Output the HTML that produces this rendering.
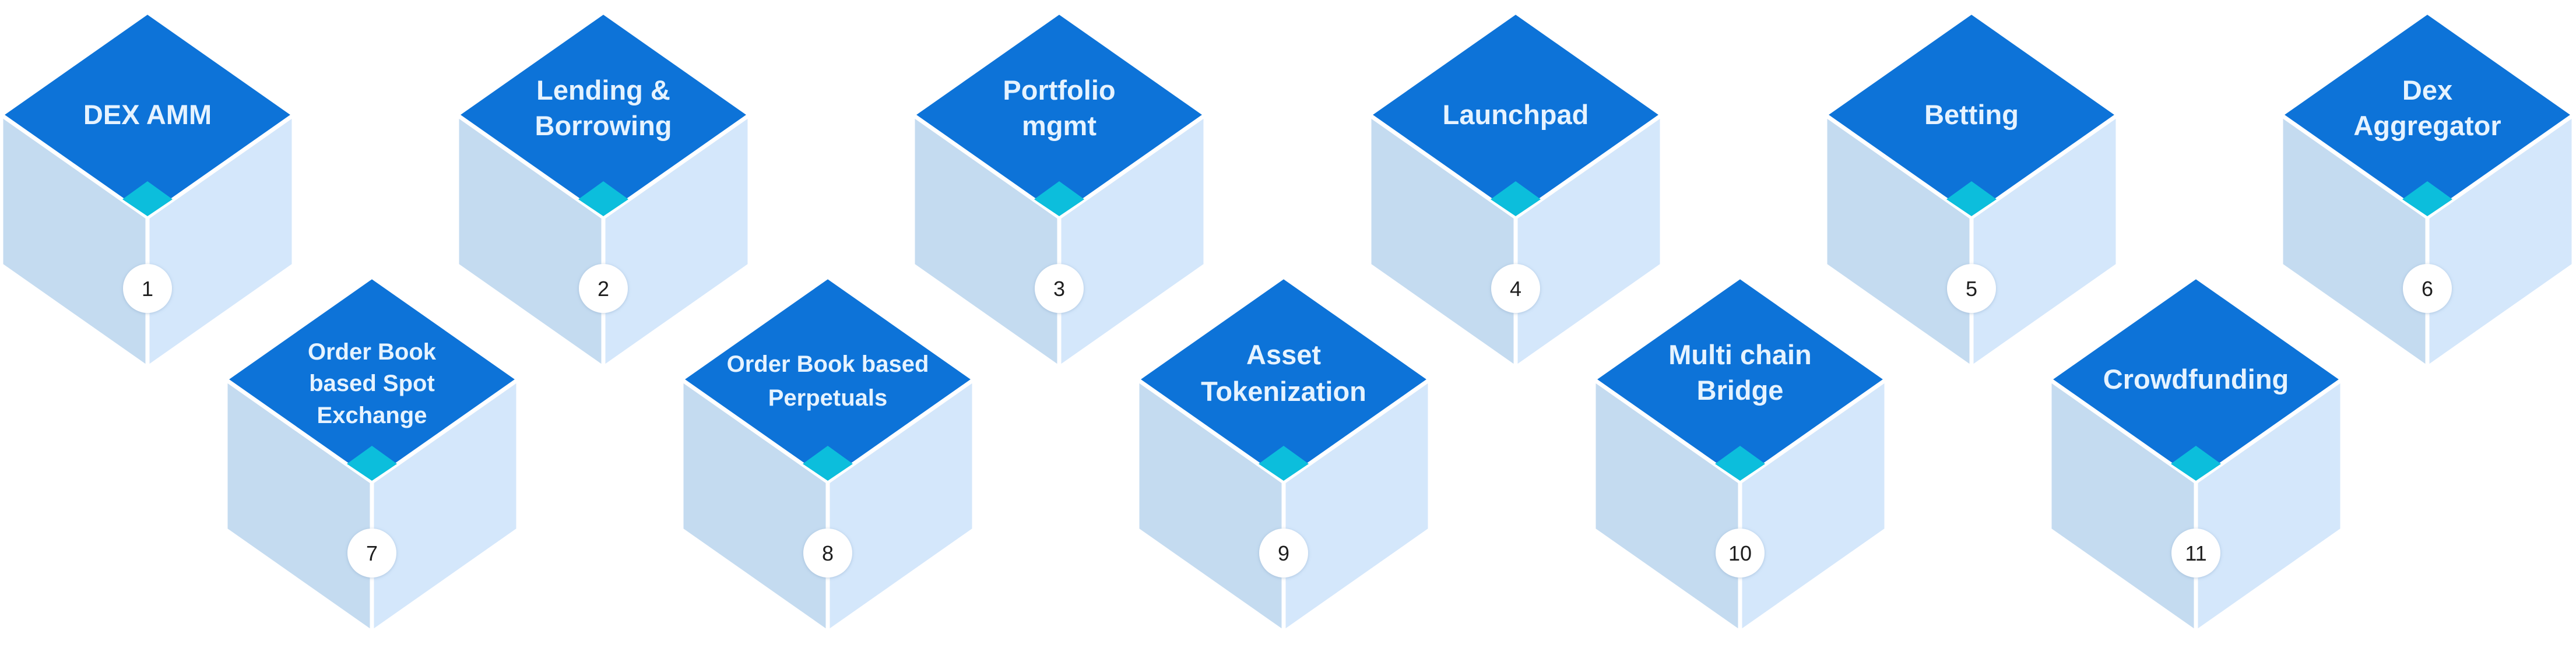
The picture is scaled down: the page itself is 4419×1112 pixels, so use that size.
<!DOCTYPE html>
<html><head><meta charset="utf-8"><style>
html,body{margin:0;padding:0;background:#fff;}
svg{display:block;}
text{font-family:"Liberation Sans",sans-serif;font-weight:bold;fill:#e6f3ff;text-anchor:middle;}
text.n{font-weight:normal;fill:#1e1e1e;font-size:36px;}
</style></head><body>
<svg width="4419" height="1112" viewBox="0 0 4419 1112" xmlns="http://www.w3.org/2000/svg">
<defs>
<filter id="sh" x="-50%" y="-50%" width="200%" height="200%"><feDropShadow dx="0" dy="1" stdDeviation="3" flood-color="#7a9cc0" flood-opacity="0.45"/></filter>
<g id="cube">
<polygon points="-251,176 0,352 0,610 -251,434" fill="#c4dbf0" stroke="#fff" stroke-width="7" stroke-linejoin="round"/>
<polygon points="251,176 0,352 0,610 251,434" fill="#d4e7fb" stroke="#fff" stroke-width="7" stroke-linejoin="round"/>
<polygon points="0,0 251,176 0,352 -251,176" fill="#0d73d8" stroke="#fff" stroke-width="7" stroke-linejoin="round"/>
<polygon points="0,290 43,321 0,350 -43,321" fill="#0cbedc"/>
<circle cx="0" cy="474" r="42" fill="#fff" filter="url(#sh)"/>
</g>
</defs>

<g transform="translate(253,21)"><use href="#cube"/><text x="0" y="192" font-size="47">DEX AMM</text><text class="n" x="0" y="487">1</text></g>
<g transform="translate(1035,21)"><use href="#cube"/><text x="0" y="150" font-size="47">Lending &amp;</text><text x="0" y="211" font-size="47">Borrowing</text><text class="n" x="0" y="487">2</text></g>
<g transform="translate(1817,21)"><use href="#cube"/><text x="0" y="150" font-size="47">Portfolio</text><text x="0" y="211" font-size="47">mgmt</text><text class="n" x="0" y="487">3</text></g>
<g transform="translate(2600,21)"><use href="#cube"/><text x="0" y="192" font-size="47">Launchpad</text><text class="n" x="0" y="487">4</text></g>
<g transform="translate(3382,21)"><use href="#cube"/><text x="0" y="192" font-size="47">Betting</text><text class="n" x="0" y="487">5</text></g>
<g transform="translate(4164,21)"><use href="#cube"/><text x="0" y="150" font-size="47">Dex</text><text x="0" y="211" font-size="47">Aggregator</text><text class="n" x="0" y="487">6</text></g>

<g transform="translate(638,475)"><use href="#cube"/><text x="0" y="142" font-size="40">Order Book</text><text x="0" y="196" font-size="40">based Spot</text><text x="0" y="251" font-size="40">Exchange</text><text class="n" x="0" y="487">7</text></g>
<g transform="translate(1420,475)"><use href="#cube"/><text x="0" y="163" font-size="40">Order Book based</text><text x="0" y="221" font-size="40">Perpetuals</text><text class="n" x="0" y="487">8</text></g>
<g transform="translate(2202,475)"><use href="#cube"/><text x="0" y="150" font-size="47">Asset</text><text x="0" y="213" font-size="47">Tokenization</text><text class="n" x="0" y="487">9</text></g>
<g transform="translate(2985,475)"><use href="#cube"/><text x="0" y="150" font-size="47">Multi chain</text><text x="0" y="211" font-size="47">Bridge</text><text class="n" x="0" y="487">10</text></g>
<g transform="translate(3767,475)"><use href="#cube"/><text x="0" y="192" font-size="47">Crowdfunding</text><text class="n" x="0" y="487">11</text></g>
</svg>
</body></html>
